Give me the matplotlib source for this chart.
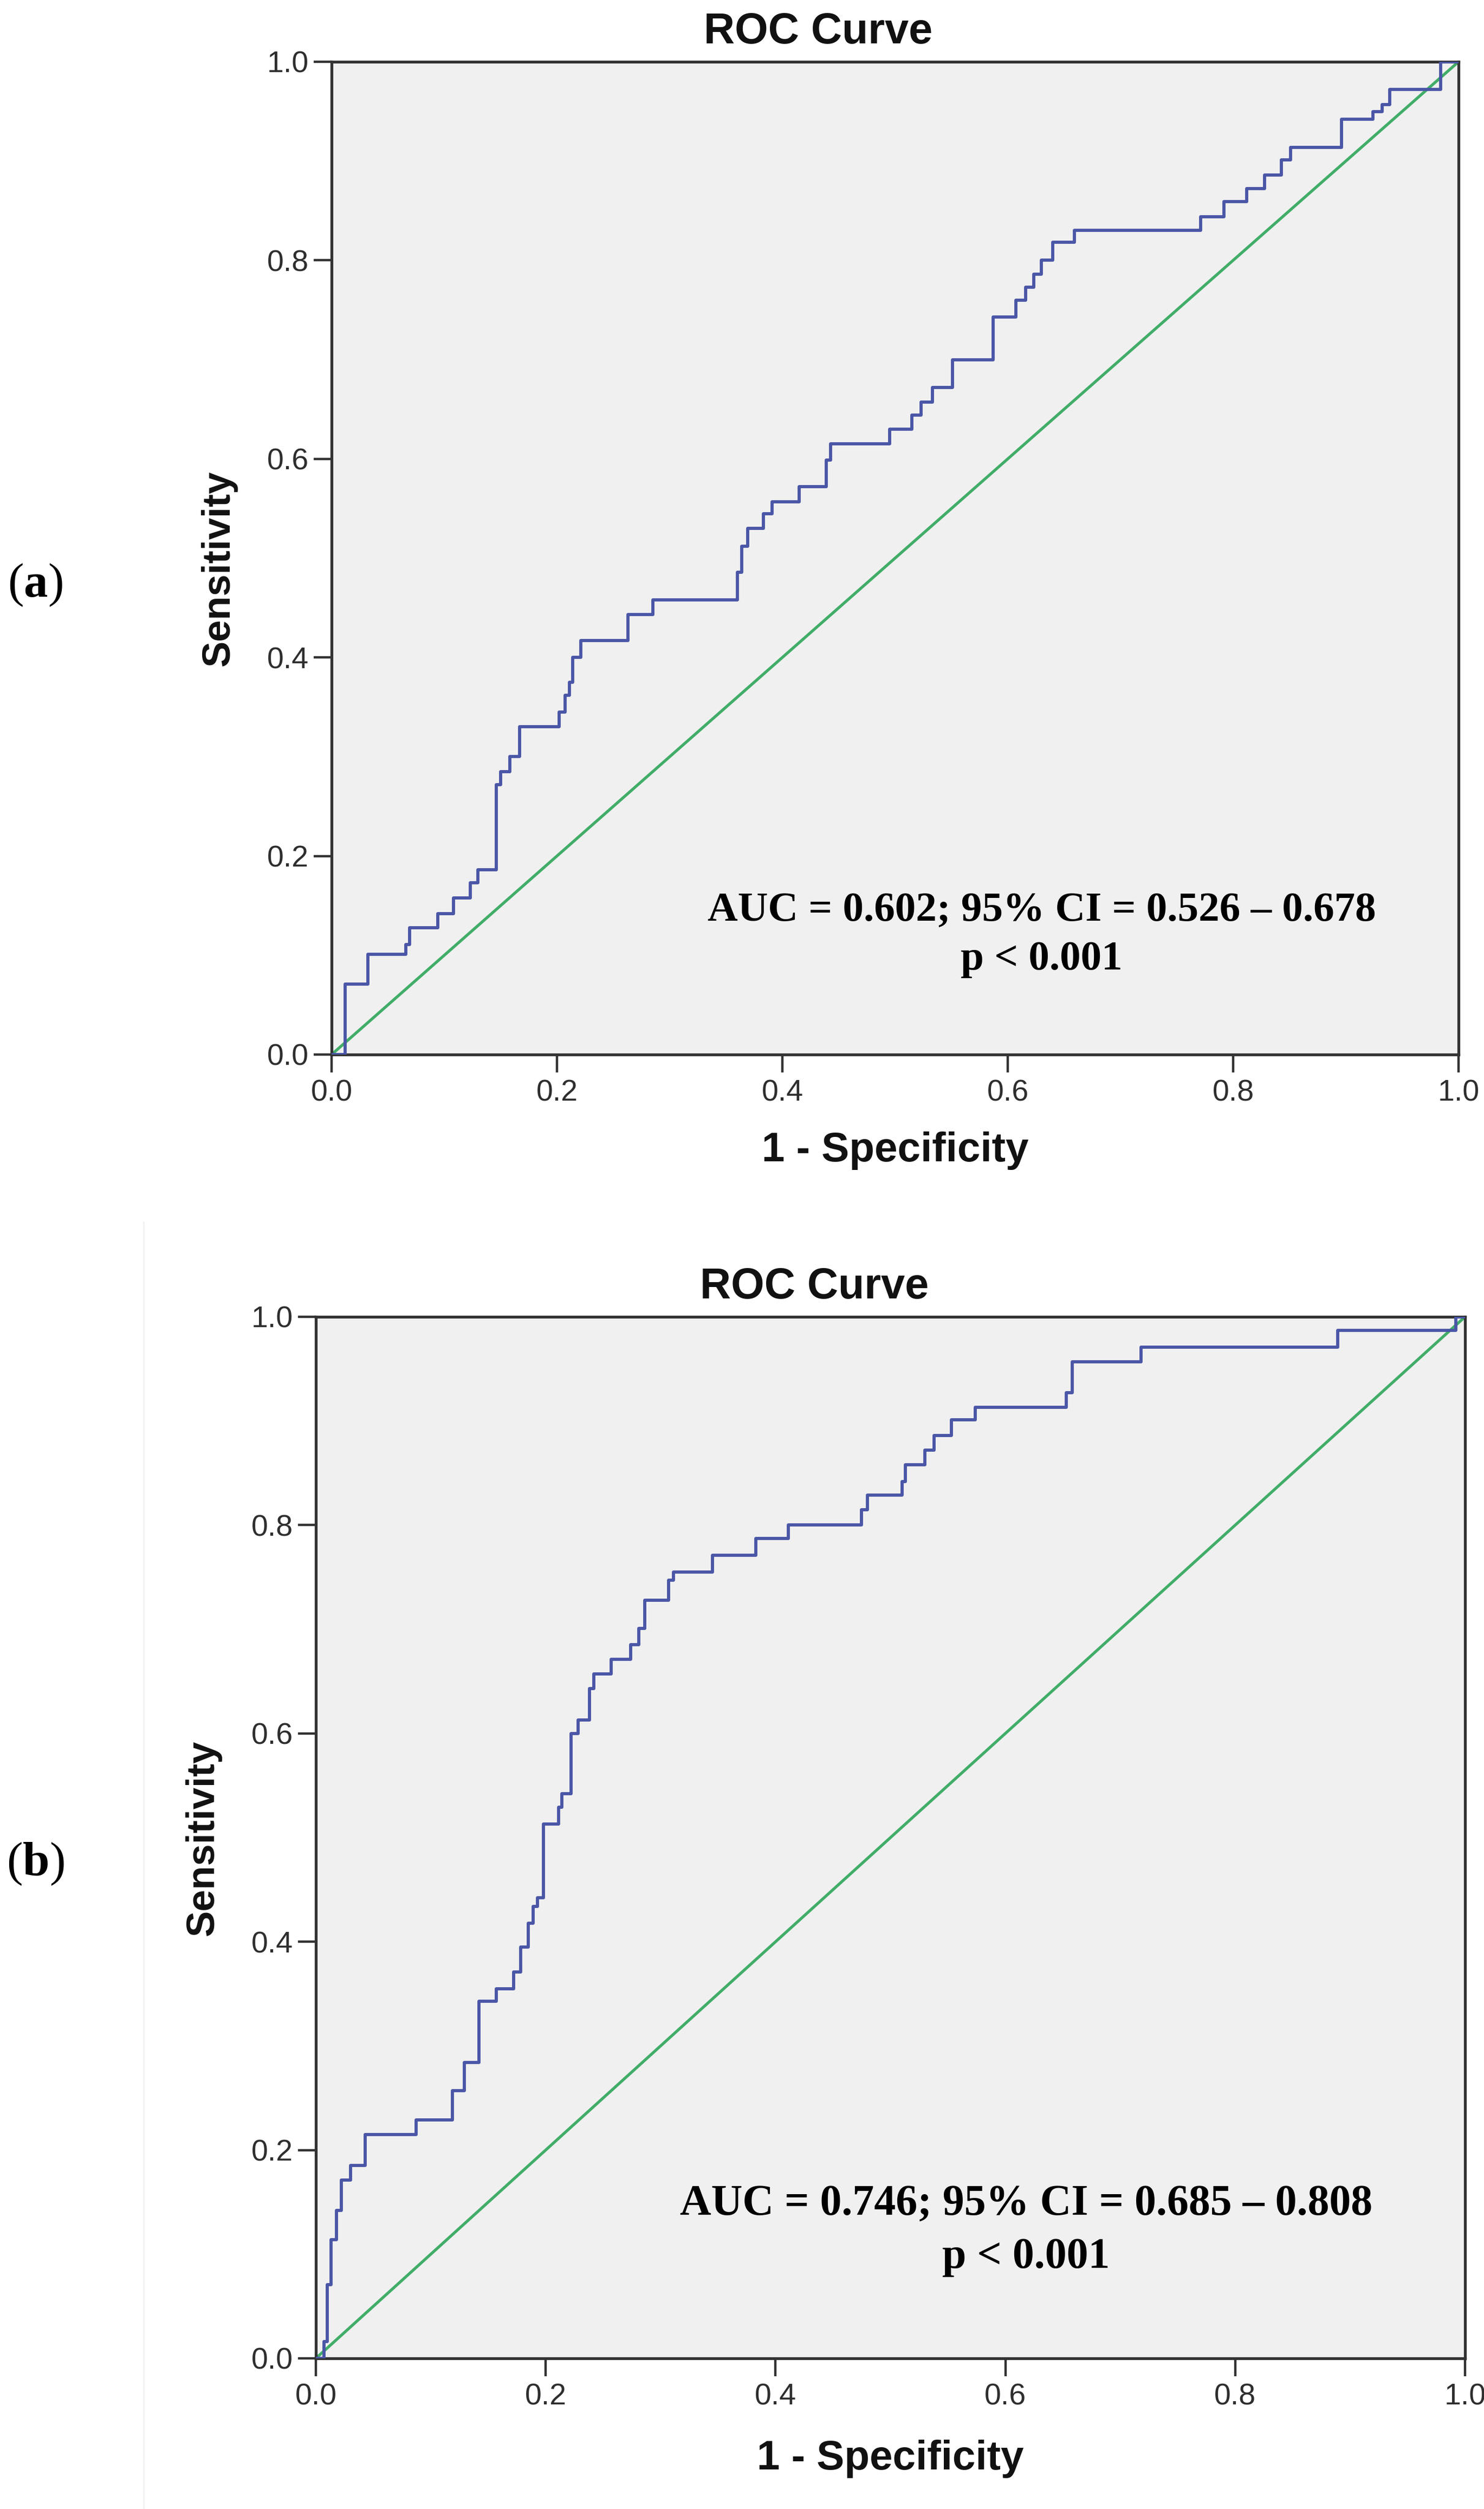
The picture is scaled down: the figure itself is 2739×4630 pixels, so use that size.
import matplotlib
matplotlib.use("Agg")
import matplotlib.pyplot as plt

# ---------------- data ----------------
fpr_a = [0.0, 0.012, 0.032, 0.066, 0.069, 0.094, 0.108, 0.123, 0.130, 0.146, 0.150,
         0.158, 0.167, 0.202, 0.207, 0.211, 0.214, 0.221, 0.263, 0.285, 0.360, 0.364,
         0.369, 0.383, 0.391, 0.415, 0.439, 0.443, 0.495, 0.515, 0.523, 0.533, 0.551,
         0.587, 0.607, 0.616, 0.623, 0.630, 0.640, 0.659, 0.771, 0.792, 0.812, 0.828,
         0.843, 0.851, 0.896, 0.924, 0.932, 0.939, 0.984, 1.0]
tpr_a = [0.0, 0.071, 0.101, 0.111, 0.128, 0.142, 0.158, 0.173, 0.186, 0.272, 0.285,
         0.300, 0.330, 0.345, 0.362, 0.375, 0.400, 0.417, 0.443, 0.458, 0.486, 0.512,
         0.530, 0.545, 0.557, 0.572, 0.599, 0.615, 0.630, 0.644, 0.657, 0.672, 0.700,
         0.743, 0.760, 0.773, 0.786, 0.800, 0.818, 0.830, 0.844, 0.859, 0.872, 0.886,
         0.901, 0.914, 0.942, 0.950, 0.957, 0.972, 1.0, 1.0]

fpr_b = [0.0, 0.007, 0.010, 0.013, 0.018, 0.022, 0.030, 0.043, 0.087, 0.119, 0.129,
         0.142, 0.157, 0.172, 0.178, 0.185, 0.189, 0.193, 0.198, 0.211, 0.214, 0.222,
         0.228, 0.238, 0.242, 0.257, 0.274, 0.281, 0.286, 0.307, 0.311, 0.345, 0.383,
         0.411, 0.475, 0.480, 0.510, 0.513, 0.530, 0.538, 0.553, 0.574, 0.653, 0.658,
         0.718, 0.889, 0.992, 1.0]
tpr_b = [0.0, 0.016, 0.071, 0.114, 0.142, 0.171, 0.185, 0.215, 0.229, 0.257, 0.284,
         0.343, 0.355, 0.371, 0.395, 0.418, 0.434, 0.442, 0.513, 0.529, 0.542, 0.600,
         0.613, 0.643, 0.657, 0.671, 0.685, 0.701, 0.728, 0.747, 0.755, 0.771, 0.787,
         0.800, 0.815, 0.829, 0.842, 0.858, 0.872, 0.886, 0.901, 0.913, 0.927, 0.957,
         0.971, 0.987, 1.0, 1.0]

ref_line = [0.0, 1.0]
ticks = [0.0, 0.2, 0.4, 0.6, 0.8, 1.0]
tick_labels = ["0.0", "0.2", "0.4", "0.6", "0.8", "1.0"]

panel_labels = ["a", "b"]
auc_texts = ["AUC = 0.602; 95% CI = 0.526 \u2013 0.678",
             "AUC = 0.746; 95% CI = 0.685 \u2013 0.808"]
p_texts = ["p < 0.001", "p < 0.001"]
title_text = "ROC Curve"
xlabel_text = "1 - Specificity"
ylabel_text = "Sensitivity"

# ---------------- style ----------------
plt.rcParams['mathtext.fontset'] = 'custom'
plt.rcParams['mathtext.rm'] = 'Liberation Serif'
plt.rcParams['mathtext.bf'] = 'Liberation Serif:bold'

W, H = 2739, 4630
DPI = 100
fig = plt.figure(figsize=(W / DPI, H / DPI), dpi=DPI, facecolor='white')

# axes rectangles in pixel coords: left, top, right, bottom
rects = [(612, 114, 2692, 1946), (583, 2430, 2704, 4352)]
auc_pos = [(0.630, 0.145, 0.096, 55.5), (0.618, 0.148, 0.097, 57.5)]
title_x = [0.432, 0.434]
ylabel_pos = [(-0.100, 0.490), (-0.098, 0.500)]
panel_y_px = [1080, 3440]

curves = [(fpr_a, tpr_a), (fpr_b, tpr_b)]

blue = '#4a56a6'
green = '#41ad68'
spine_c = '#333333'
sans = 'Liberation Sans'
serif = 'Liberation Serif'

for i in range(2):
    l, t, r, b = rects[i]
    ax = fig.add_axes([l / W, 1 - b / H, (r - l) / W, (b - t) / H])
    ax.set_facecolor('#f0f0f0')
    ax.set_xlim(0, 1)
    ax.set_ylim(0, 1)

    fpr, tpr = curves[i]
    ax.plot(ref_line, ref_line, color=green, lw=3.8, solid_capstyle='butt', zorder=2)
    ax.step(fpr, tpr, where='post', color=blue, lw=4.2, zorder=3)

    for s in ax.spines.values():
        s.set_color(spine_c)
        s.set_linewidth(3.8)

    ax.set_xticks(ticks)
    ax.set_yticks(ticks)
    ax.set_xticklabels(tick_labels)
    ax.set_yticklabels(tick_labels)
    ax.tick_params(axis='both', direction='out', length=24, width=3.2,
                   color=spine_c, labelsize=40, labelcolor='#2e2e2e')
    ax.tick_params(axis='x', pad=9)
    ax.tick_params(axis='y', pad=6)
    for lab in ax.get_xticklabels() + ax.get_yticklabels():
        lab.set_fontfamily(sans)

    hpx = b - t
    ax.text(title_x[i], 1 + 34 / hpx, title_text, transform=ax.transAxes,
            ha='center', va='baseline', fontsize=57, fontweight='bold',
            family=sans, color='#111111')
    ax.text(0.5, -(197 if i == 0 else 205) / hpx, xlabel_text, transform=ax.transAxes,
            ha='center', va='baseline', fontsize=55, fontweight='bold',
            family=sans, color='#111111')
    ax.text(ylabel_pos[i][0], ylabel_pos[i][1], ylabel_text, transform=ax.transAxes,
            ha='center', va='center', rotation=90, fontsize=52, fontweight='bold',
            family=sans, color='#111111')

    xc, y1, y2, fs = auc_pos[i]
    ax.text(xc, y1, auc_texts[i], transform=ax.transAxes, ha='center', va='center',
            fontsize=fs, fontweight='bold', family=serif, color='black')
    ax.text(xc, y2, p_texts[i], transform=ax.transAxes, ha='center', va='center',
            fontsize=fs, fontweight='bold', family=serif, color='black')

    fig.text(65 / W, 1 - panel_y_px[i] / H, r"($\mathbf{%s}$)" % panel_labels[i],
             ha='center', va='center', fontsize=64, family=serif, color='black')

# faint image edge visible in the reference left of panel (b)
fig.add_artist(plt.Line2D([265 / W, 265 / W], [0, 1 - 2255 / H], transform=fig.transFigure,
                          color='#f3f3f3', lw=2))

fig.savefig('out.png', dpi=DPI, facecolor='white')
